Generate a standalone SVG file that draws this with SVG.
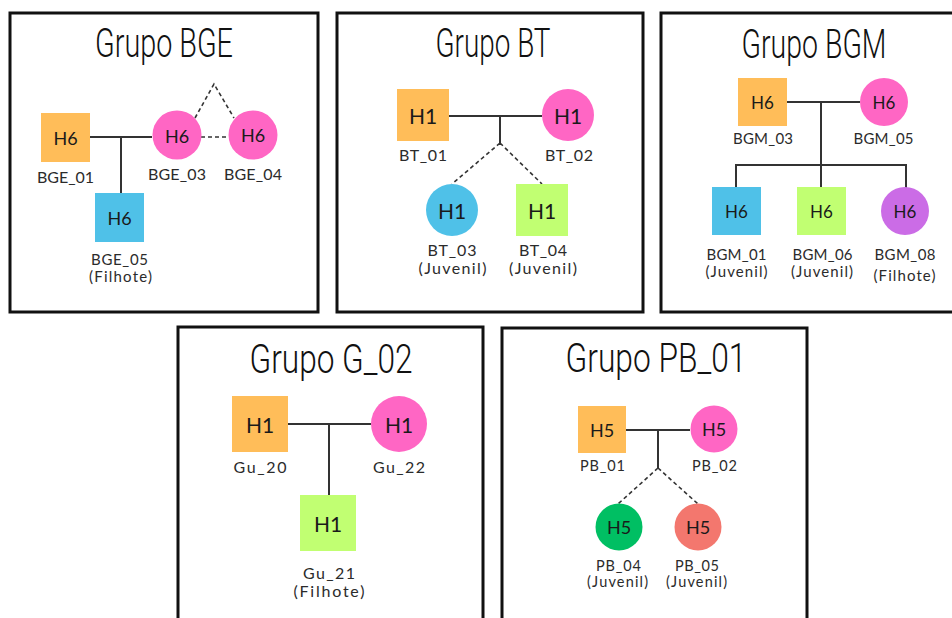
<svg xmlns="http://www.w3.org/2000/svg" width="952" height="618" viewBox="0 0 952 618">
<style>
.panel{fill:#fff;stroke:#111;stroke-width:3}
.title{font-family:"Roboto","Liberation Sans",sans-serif;font-weight:300;font-size:41px;fill:#111;text-anchor:middle}
.h{font-family:Lato,"Liberation Sans",sans-serif;fill:#1a1a1a;text-anchor:middle;dominant-baseline:central}
.lbl{font-family:Lato,"Liberation Sans",sans-serif;fill:#2b2b2b;text-anchor:middle}
.ln{stroke:#333;stroke-width:2;fill:none}
.dl{stroke:#333;stroke-width:1.6;fill:none;stroke-dasharray:4 3}
.or{fill:#FFBD59}.pk{fill:#FF66C4}.bl{fill:#4FC1E8}.gr{fill:#C1FF72}.pu{fill:#CB6CE6}.dg{fill:#00BF63}.sa{fill:#F3776E}
</style>
<rect width="952" height="618" fill="#fff"/>
<!-- panels -->
<rect class="panel" x="10" y="13" width="308" height="299"/>
<rect class="panel" x="337" y="13" width="306" height="299"/>
<rect class="panel" x="661" y="13" width="310" height="299"/>
<rect class="panel" x="178" y="327" width="305" height="310"/>
<rect class="panel" x="502" y="328" width="305" height="310"/>
<text class="title" x="164" y="57" textLength="138" lengthAdjust="spacingAndGlyphs">Grupo BGE</text>
<text class="title" x="493" y="57" textLength="115" lengthAdjust="spacingAndGlyphs">Grupo BT</text>
<text class="title" x="814" y="58" textLength="145" lengthAdjust="spacingAndGlyphs">Grupo BGM</text>
<text class="title" x="331" y="373" textLength="163" lengthAdjust="spacingAndGlyphs">Grupo G_02</text>
<text class="title" x="656" y="372" textLength="181" lengthAdjust="spacingAndGlyphs">Grupo PB_01</text>

<g id="connectors">
  <!-- BGE -->
  <path class="ln" d="M90 137H152M121 137V193"/>
  <path class="dl" d="M201 137H229M195 118L214 84L234 118"/>
  <!-- BT -->
  <path class="ln" d="M449 116H542M500 116V143"/>
  <path class="dl" d="M500 143L452 184M500 143L542 184"/>
  <!-- BGM -->
  <path class="ln" d="M787 102H860M821 102V187M736 187V165H906V188"/>
  <!-- G_02 -->
  <path class="ln" d="M287 424H371M329 424V495"/>
  <!-- PB_01 -->
  <path class="ln" d="M626 430H690M658 430V468"/>
  <path class="dl" d="M658 468L618 504M658 468L698 504"/>
</g>

<!-- BGE nodes -->
<g id="BGE_01"><rect class="or" x="41" y="113" width="49" height="49"/><text class="h" x="65.5" y="138" font-size="18">H6</text><text class="lbl" x="65.5" y="183" font-size="16" textLength="57">BGE_01</text></g>
<g id="BGE_03"><circle class="pk" cx="177" cy="135" r="24.5"/><text class="h" x="177" y="136" font-size="18">H6</text><text class="lbl" x="177" y="180" font-size="16" textLength="58">BGE_03</text></g>
<g id="BGE_04"><circle class="pk" cx="253" cy="135" r="24.5"/><text class="h" x="253" y="135" font-size="18">H6</text><text class="lbl" x="253" y="180" font-size="16" textLength="58">BGE_04</text></g>
<g id="BGE_05"><rect class="bl" x="95" y="193" width="49" height="49"/><text class="h" x="119.5" y="218" font-size="18">H6</text><text class="lbl" x="119.5" y="265" font-size="15" textLength="57">BGE_05</text><text class="lbl" x="120.5" y="282" font-size="15" textLength="63">(Filhote)</text></g>

<!-- BT nodes -->
<g id="BT_01"><rect class="or" x="397" y="89" width="52" height="52"/><text class="h" x="423" y="115" font-size="21">H1</text><text class="lbl" x="423" y="161" font-size="16" textLength="48">BT_01</text></g>
<g id="BT_02"><circle class="pk" cx="568" cy="115" r="26"/><text class="h" x="568" y="115" font-size="21">H1</text><text class="lbl" x="569" y="161" font-size="16" textLength="48">BT_02</text></g>
<g id="BT_03"><circle class="bl" cx="452" cy="210" r="26"/><text class="h" x="452" y="210" font-size="21">H1</text><text class="lbl" x="452" y="256" font-size="16" textLength="49">BT_03</text><text class="lbl" x="452.5" y="274" font-size="16" textLength="68">(Juvenil)</text></g>
<g id="BT_04"><rect class="gr" x="516" y="184" width="52" height="52"/><text class="h" x="542" y="210" font-size="21">H1</text><text class="lbl" x="543" y="256" font-size="16" textLength="48">BT_04</text><text class="lbl" x="543" y="274" font-size="16" textLength="68">(Juvenil)</text></g>

<!-- BGM nodes -->
<g id="BGM_03"><rect class="or" x="738" y="78" width="49" height="48"/><text class="h" x="762.5" y="102" font-size="17">H6</text><text class="lbl" x="763" y="144" font-size="15" textLength="60">BGM_03</text></g>
<g id="BGM_05"><circle class="pk" cx="884" cy="102" r="24"/><text class="h" x="884" y="102" font-size="17">H6</text><text class="lbl" x="883.5" y="144" font-size="15" textLength="60">BGM_05</text></g>
<g id="BGM_01"><rect class="bl" x="712" y="187" width="49" height="48"/><text class="h" x="736.5" y="211" font-size="17">H6</text><text class="lbl" x="736.5" y="260" font-size="15" textLength="60">BGM_01</text><text class="lbl" x="736.5" y="277" font-size="15" textLength="62">(Juvenil)</text></g>
<g id="BGM_06"><rect class="gr" x="797" y="187" width="49" height="48"/><text class="h" x="821.5" y="211" font-size="17">H6</text><text class="lbl" x="822.5" y="260" font-size="15" textLength="60">BGM_06</text><text class="lbl" x="822" y="277" font-size="15" textLength="62">(Juvenil)</text></g>
<g id="BGM_08"><circle class="pu" cx="905" cy="211" r="24"/><text class="h" x="905" y="211" font-size="17">H6</text><text class="lbl" x="905" y="260" font-size="15" textLength="61">BGM_08</text><text class="lbl" x="904.5" y="281" font-size="15" textLength="62">(Filhote)</text></g>

<!-- G_02 nodes -->
<g id="Gu_20"><rect class="or" x="232" y="396" width="56" height="56"/><text class="h" x="260" y="424" font-size="21">H1</text><text class="lbl" x="260" y="473" font-size="16" textLength="53">Gu_20</text></g>
<g id="Gu_22"><circle class="pk" cx="399" cy="424" r="28"/><text class="h" x="399" y="424" font-size="21">H1</text><text class="lbl" x="399" y="473" font-size="16" textLength="52">Gu_22</text></g>
<g id="Gu_21"><rect class="gr" x="300" y="495" width="56" height="56"/><text class="h" x="328" y="523" font-size="21">H1</text><text class="lbl" x="329" y="579" font-size="16" textLength="52">Gu_21</text><text class="lbl" x="329" y="597" font-size="16" textLength="71">(Filhote)</text></g>

<!-- PB_01 nodes -->
<g id="PB_01"><rect class="or" x="578" y="406" width="48" height="47"/><text class="h" x="602" y="429.5" font-size="18">H5</text><text class="lbl" x="602.5" y="471" font-size="14.5" textLength="45">PB_01</text></g>
<g id="PB_02"><circle class="pk" cx="714" cy="429" r="23.5"/><text class="h" x="714" y="429" font-size="18">H5</text><text class="lbl" x="714.5" y="471" font-size="14.5" textLength="45">PB_02</text></g>
<g id="PB_04"><circle class="dg" cx="619" cy="527" r="23.5"/><text class="h" x="619" y="527" font-size="18">H5</text><text class="lbl" x="618.5" y="570.5" font-size="14.5" textLength="45">PB_04</text><text class="lbl" x="617.5" y="587" font-size="14.5" textLength="61">(Juvenil)</text></g>
<g id="PB_05"><circle class="sa" cx="698" cy="527" r="23.5"/><text class="h" x="698" y="527" font-size="18">H5</text><text class="lbl" x="697" y="570.5" font-size="14.5" textLength="44">PB_05</text><text class="lbl" x="696.5" y="587" font-size="14.5" textLength="61">(Juvenil)</text></g>
</svg>
